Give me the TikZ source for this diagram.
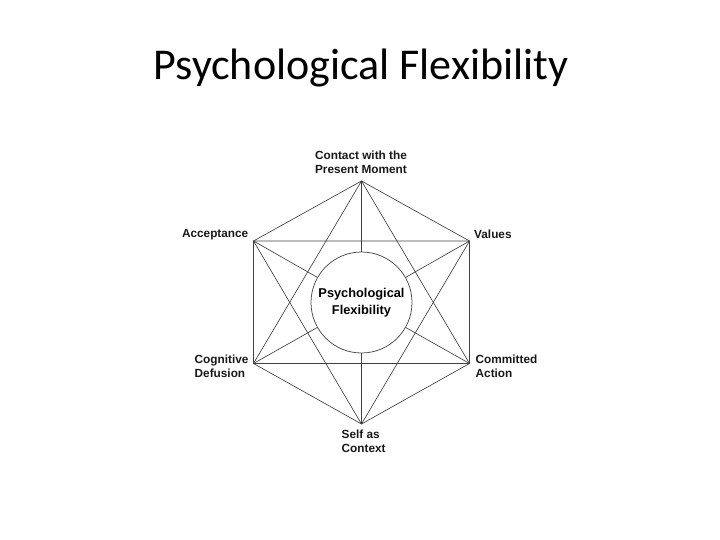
\documentclass[tikz,border=0pt]{standalone}
\usepackage{fontspec}
\setmainfont{Liberation Sans}
\newfontfamily\titlefont{Carlito}
\begin{document}
\begin{tikzpicture}[x=1pt,y=-1pt,
  edge/.style={draw=black!75, line width=0.65pt},
  lbl/.style={font=\fontsize{11.8}{13.6}\selectfont\bfseries, inner sep=0pt, text=black!90},
  hub/.style={circle, draw=black!70, line width=0.75pt, minimum size=101pt, inner sep=0pt, align=center,
    font=\fontsize{12.8}{17}\selectfont\bfseries}]
\useasboundingbox (0,0) rectangle (720,540);
\node[font=\titlefont\fontsize{44}{48}\selectfont, inner sep=0pt, anchor=base] (title) at (361,79.5) {Psychological Flexibility};
% vertices
\coordinate (T) at (361.5,181);
\coordinate (B) at (361.5,424);
\coordinate (UL) at (253.5,241);
\coordinate (UR) at (469.5,241);
\coordinate (LL) at (253.5,363.5);
\coordinate (LR) at (469.5,363.5);
\node[hub] (pf) at (361.5,302.5) {Psychological\\Flexibility};
% hexagon
\draw[edge] (T) -- (UR) -- (LR) -- (B) -- (LL) -- (UL) -- cycle;
% triangles
\draw[edge] (T) -- (LL) -- (LR) -- cycle;
\draw[edge] (B) -- (UL) -- (UR) -- cycle;
% spokes
\foreach \v in {T,B,UL,UR,LL,LR} \draw[edge] (\v) -- (pf);
% labels
\node[lbl, align=center] (cpm) at (361,162.5) {Contact with the\\Present Moment};
\node[lbl, anchor=east] (acc) at (248.5,234.5) {Acceptance};
\node[lbl, anchor=west] (val) at (474,234.5) {Values};
\node[lbl, anchor=west, align=left] (cd) at (194.5,366) {Cognitive\\Defusion};
\node[lbl, anchor=west, align=left] (ca) at (475.5,366) {Committed\\Action};
\node[lbl, anchor=west, align=left] (sc) at (341.5,441.5) {Self as\\Context};
\end{tikzpicture}
\end{document}
